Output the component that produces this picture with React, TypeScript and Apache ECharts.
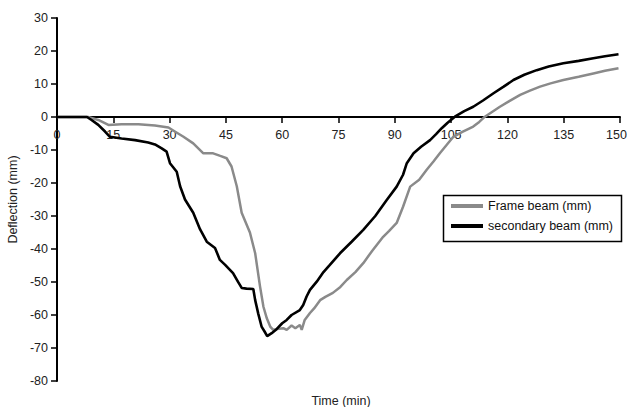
import React, { useEffect, useRef } from "react";
import * as echarts from "echarts";

// Mid-span deflection of the two beams over the fire test duration.
const frameTime = [
  0, 8.3, 11, 13.7, 17.2, 21.7, 26.1, 29.7, 31.4, 33.7, 36.3, 39, 41.6, 43.5, 45.2,
  46.5, 47.9, 49.2, 51.4, 52.8, 54.1, 55, 55.9, 56.8, 57.6, 59, 60.3, 61.2, 62.5,
  63.5, 64.7, 65.2, 66, 67.4, 68.5, 70.1, 71.5, 73.5, 75.5, 77.2, 79.5, 81.6, 84,
  86.9, 88.5, 90.5, 92.2, 94.1, 96.5, 98.5, 100.3, 102, 103.8, 105.6, 108, 110.9,
  112.5, 114, 116, 118, 120.5, 123.4, 126, 128.7, 131.5, 134.9, 139, 142.9, 146, 149.6,
];
const frameDeflection = [
  0, 0, -0.9, -2.4, -2.2, -2.2, -2.6, -3.2, -4.4, -6, -8, -11, -11, -11.8, -12.5,
  -15, -21, -29, -35, -41.3, -51.4, -57.5, -61, -63.5, -64.5, -64.2, -64, -64.5, -63.2,
  -64, -63, -64.5, -61.5, -59.4, -58, -55.5, -54.5, -53.3, -51.5, -49.4, -47, -44.3, -40.5,
  -36.3, -34.5, -32.1, -27.2, -21.1, -19, -16, -13.5, -11, -8.5, -6, -4.5, -2.9,
  -1.5, 0.1, 1.6, 3.1, 4.8, 6.7, 8, 9.2, 10.2, 11.2, 12.2, 13.2, 14, 14.8,
];

const secondaryTime = [
  0, 8, 9.2, 11, 12.8, 14.1, 17.2, 20.8, 24.3, 26.1, 27.9, 29.2, 30.1, 31.9, 32.8,
  34.1, 36.3, 38.1, 39.9, 42.1, 43.4, 44.8, 46.9, 48.2, 49.2, 50.5, 52.3, 52.8, 53.6,
  54.5, 55.3, 56, 57.2, 58.5, 60, 61.2, 62.5, 64.7, 65.6, 66.5, 67.4, 69.2, 71, 72.7,
  75.4, 78.5, 81.6, 84.8, 87.8, 90.5, 92.2, 93.2, 95, 97, 99.4, 101, 102.5, 104, 106,
  108.5, 110.9, 113.5, 116.3, 119, 121.6, 124.5, 127.8, 131, 134.9, 139, 142.9, 146, 149.6,
];
const secondaryDeflection = [
  0, 0, -0.9, -2.4, -4.4, -6, -6.5, -7, -7.7, -8.3, -9.5, -10.5, -14, -16.6, -21,
  -25, -29, -34, -37.8, -39.7, -43.3, -44.8, -47.3, -49.9, -51.8, -52, -52.1, -55.5, -59.5,
  -63.5, -65, -66.4, -65.5, -64.3, -62.5, -61.5, -60, -58.5, -57, -54.4, -52.4, -49.9, -47, -44.8,
  -41.3, -37.8, -34.2, -30, -25.2, -21.1, -17.5, -14, -11, -9, -7, -5.2, -3.4, -1.8, 0.1,
  1.8, 3.1, 5, 7.2, 9.2, 11.2, 12.8, 14.2, 15.3, 16.3, 17, 17.8, 18.4, 19,
];

const seriesNames = ["Frame beam (mm)", "secondary beam (mm)"];

const X_MAX = 150;
const Y_MIN = -80;
const Y_MAX = 30;

const FONT = "'Liberation Sans', Arial, sans-serif";
const FONT_SIZE = 12.5;

// Plot area in pixels.
const GRID_TOP = 18;
const GRID_BOTTOM = 26;
const GRID_LEFT = 57;
const GRID_RIGHT = 7;
const CHART_W = 627;
const CHART_H = 407;

function pairs(xs: number[], ys: number[]): number[][] {
  return xs.map((x, i) => [x, ys[i]]);
}

export default function App() {
  const ref = useRef<HTMLDivElement>(null);

  useEffect(() => {
    if (!ref.current) return;
    const chart = echarts.init(ref.current, undefined, { renderer: "svg" });

    // Lift the time axis from the bottom of the plot up to the zero-deflection line.
    const plotH = CHART_H - GRID_TOP - GRID_BOTTOM;
    const zeroOffset = -(plotH * (0 - Y_MIN)) / (Y_MAX - Y_MIN);

    const labelText = { color: "#222", fontSize: FONT_SIZE, fontFamily: FONT };

    chart.setOption({
      animation: false,
      backgroundColor: "#ffffff",
      grid: {
        left: GRID_LEFT,
        right: GRID_RIGHT,
        top: GRID_TOP,
        bottom: GRID_BOTTOM,
        containLabel: false,
        outerBoundsMode: "none",
      },
      xAxis: {
        type: "value",
        min: 0,
        max: X_MAX,
        interval: 15,
        offset: zeroOffset,
        axisLine: { onZero: false, lineStyle: { color: "#000", width: 2 } },
        axisTick: { show: true, inside: false, length: 6, lineStyle: { color: "#000", width: 1.5 } },
        axisLabel: {
          ...labelText,
          margin: 11,
          // the last label sits against the right edge, nudged in so it stays on the page
          formatter: (v: number) => (v === X_MAX ? `{edge|${v}}` : `${v}`),
          rich: { edge: { ...labelText, padding: [0, 7, 0, 0] } },
        },
        splitLine: { show: false },
      },
      yAxis: {
        type: "value",
        min: Y_MIN,
        max: Y_MAX,
        interval: 10,
        name: "Deflection (mm)",
        nameLocation: "middle",
        nameGap: 36,
        nameTextStyle: labelText,
        axisLine: { show: true, onZero: false, lineStyle: { color: "#000", width: 2 } },
        axisTick: { show: true, inside: false, length: 6, lineStyle: { color: "#000", width: 1.5 } },
        axisLabel: { ...labelText, margin: 9 },
        splitLine: { show: false },
      },
      legend: {
        orient: "vertical",
        left: 451,
        top: 199.5,
        padding: 0,
        itemGap: 7,
        itemWidth: 32,
        itemHeight: 4,
        icon: "rect",
        textStyle: { color: "#111", fontSize: 12.5, fontFamily: FONT },
        data: seriesNames,
      },
      graphic: [
        {
          type: "rect",
          shape: { x: 443.5, y: 195.5, width: 178, height: 46 },
          style: { fill: "none", stroke: "#000", lineWidth: 1.5 },
          z: 10,
        },
        {
          type: "text",
          x: 341,
          y: 401,
          style: {
            text: "Time (min)",
            fill: "#222",
            font: `${FONT_SIZE}px ${FONT}`,
            textAlign: "center",
            textVerticalAlign: "middle",
          },
        },
      ],
      series: [
        {
          name: seriesNames[0],
          type: "line",
          showSymbol: false,
          symbol: "none",
          color: "#8a8a8a",
          lineStyle: { color: "#8a8a8a", width: 2.5 },
          data: pairs(frameTime, frameDeflection),
        },
        {
          name: seriesNames[1],
          type: "line",
          showSymbol: false,
          symbol: "none",
          color: "#000000",
          lineStyle: { color: "#000000", width: 2.6 },
          data: pairs(secondaryTime, secondaryDeflection),
        },
      ],
    });

    return () => chart.dispose();
  }, []);

  return (
    <div
      ref={ref}
      style={{ position: "absolute", left: 0, top: 0, width: CHART_W, height: CHART_H }}
    />
  );
}
